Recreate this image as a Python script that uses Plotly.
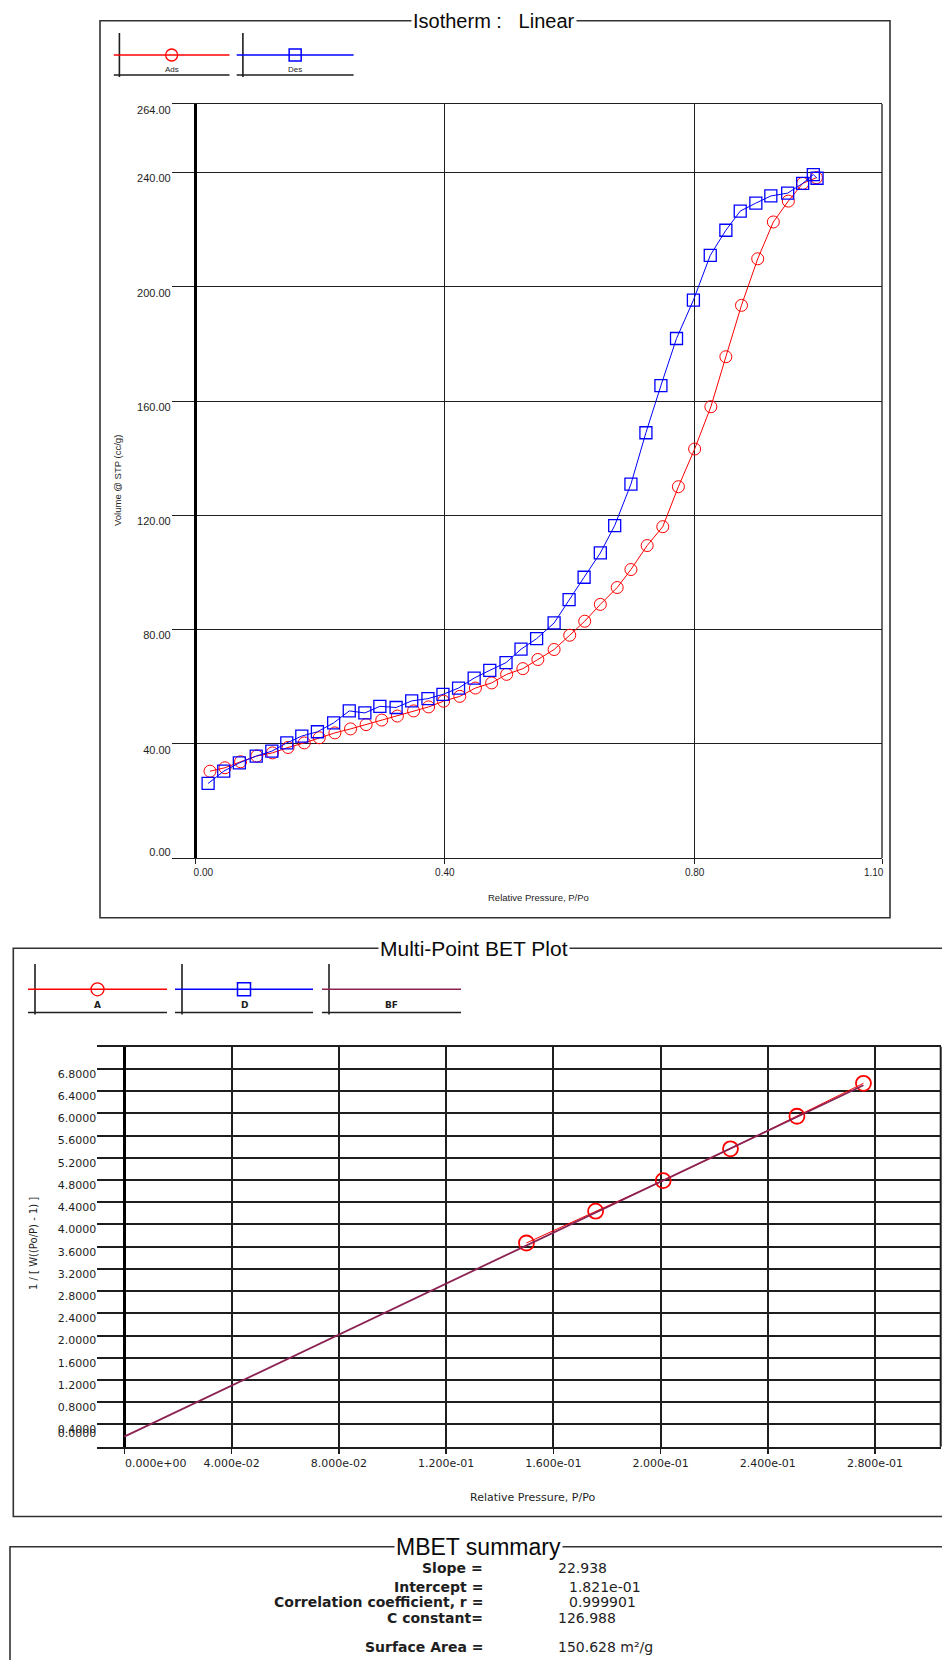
import plotly.graph_objects as go

# ---------------- data ----------------
ads_p = [0.024, 0.048, 0.073, 0.099, 0.124, 0.149, 0.175, 0.199, 0.224, 0.249,
         0.274, 0.299, 0.324, 0.350, 0.374, 0.398, 0.424, 0.449, 0.475, 0.499,
         0.525, 0.549, 0.575, 0.600, 0.624, 0.649, 0.676, 0.698, 0.724, 0.749,
         0.774, 0.800, 0.826, 0.850, 0.875, 0.901, 0.926, 0.950, 0.973, 0.995]
ads_v = [30.4, 31.6, 33.7, 35.7, 36.8, 38.7, 40.3, 42.1, 43.8, 45.2,
         46.7, 48.3, 49.7, 51.5, 52.9, 54.9, 56.6, 59.5, 61.3, 64.3,
         66.3, 69.5, 73.0, 78.0, 82.9, 88.8, 94.7, 101.0, 109.4, 116.0,
         130.0, 143.2, 158.0, 175.5, 193.5, 209.8, 222.7, 230.0, 236.2, 238.2]

des_p = [0.021, 0.046, 0.071, 0.098, 0.123, 0.147, 0.171, 0.196, 0.222, 0.247,
         0.272, 0.296, 0.322, 0.347, 0.373, 0.397, 0.422, 0.447, 0.472, 0.498,
         0.522, 0.547, 0.575, 0.599, 0.623, 0.649, 0.672, 0.698, 0.722, 0.746,
         0.771, 0.798, 0.825, 0.850, 0.873, 0.898, 0.922, 0.949, 0.973, 0.990, 0.996]
des_v = [26.1, 30.4, 33.3, 35.7, 37.4, 40.3, 42.7, 44.2, 47.3, 51.5,
         50.8, 53.1, 52.7, 55.0, 55.8, 57.3, 59.5, 63.0, 65.7, 68.4,
         73.1, 76.8, 82.3, 90.5, 98.3, 106.8, 116.4, 130.9, 148.9, 165.4,
         181.9, 195.3, 211.0, 219.8, 226.5, 229.3, 231.8, 232.8, 236.2, 239.3, 238.0]

iso_xticks = [0.0, 0.4, 0.8, 1.1]
iso_xticktext = ["\u2007\u2007\u20070.00", "0.40", "0.80", "1.10\u2007\u2007\u2007"]
iso_yticks = [40, 80, 120, 160, 200, 240, 264]
iso_yticktext = ["40.00", "80.00", "120.00", "160.00", "200.00", "240.00", "264.00"]
iso_zero_label = ["0.00"]

bet_p = [0.1500, 0.1758, 0.2010, 0.2261, 0.2509, 0.2757]
bet_y = [3.667, 4.239, 4.790, 5.362, 5.948, 6.541]
bet_xticks = [0.0, 0.04, 0.08, 0.12, 0.16, 0.20, 0.24, 0.28]
bet_xticktext = ["\u2007" * 9 + "0.000e+00", "4.000e-02", "8.000e-02", "1.200e-01",
                 "1.600e-01", "2.000e-01", "2.400e-01", "2.800e-01"]
bet_yticks = [0.0, 0.4, 0.8, 1.2, 1.6, 2.0, 2.4, 2.8, 3.2, 3.6, 4.0, 4.4, 4.8,
              5.2, 5.6, 6.0, 6.4, 6.8, 7.2]
bet_yticktext = ["", "0.4000", "0.8000", "1.2000", "1.6000", "2.0000", "2.4000",
                 "2.8000", "3.2000", "3.6000", "4.0000", "4.4000", "4.8000", "5.2000",
                 "5.6000", "6.0000", "6.4000", "6.8000", ""]
bet_zero_label = ["0.0000"]

bet_slope = 22.938
bet_intercept = 0.1821
bf_x = [0.0, bet_p[-1]]
bf_y = [bet_intercept, bet_intercept + bet_slope * bet_p[-1]]

summary_labels = ["Slope =", "Intercept =", "Correlation coefficient, r =", "C constant=", "Surface Area ="]
summary_values = ["22.938", "1.821e-01", "0.999901", "126.988", "150.628 m\u00b2/g"]

# ---------------- helpers ----------------
W, H = 942, 1660
def px(x):
    return x / W
def py(y):
    return 1 - y / H

SANS = "Liberation Sans, Arial, sans-serif"
WIDE = "DejaVu Sans, Verdana, sans-serif"
INK = "#1e1e1e"
RED = "#ff0000"
BLUE = "#0000ff"
BFC = "#8b2252"

fig = go.Figure()

# Isotherm traces
fig.add_trace(go.Scatter(x=ads_p, y=ads_v, mode="lines+markers", name="Ads",
                         line=dict(color=RED, width=1),
                         marker=dict(symbol="circle-open", size=12, color=RED, line=dict(width=1)),
                         xaxis="x", yaxis="y", showlegend=False))
fig.add_trace(go.Scatter(x=des_p, y=des_v, mode="lines+markers", name="Des",
                         line=dict(color=BLUE, width=1),
                         marker=dict(symbol="square-open", size=12, color=BLUE, line=dict(width=1.3)),
                         xaxis="x", yaxis="y", showlegend=False))

# BET traces
fig.add_trace(go.Scatter(x=bet_p, y=bet_y, mode="lines+markers", name="A",
                         line=dict(color=RED, width=1),
                         marker=dict(symbol="circle-open", size=15, color=RED, line=dict(width=1.8)),
                         xaxis="x2", yaxis="y2", showlegend=False))
fig.add_trace(go.Scatter(x=bf_x, y=bf_y, mode="lines", name="BF",
                         line=dict(color=BFC, width=1.8),
                         xaxis="x2", yaxis="y2", showlegend=False))

# empty traces that carry the overlay axes used for the offset "zero" labels
fig.add_trace(go.Scatter(x=[], y=[], xaxis="x", yaxis="y3", showlegend=False, hoverinfo="skip"))
fig.add_trace(go.Scatter(x=[], y=[], xaxis="x2", yaxis="y4", showlegend=False, hoverinfo="skip"))

isofont_y = dict(family=SANS, size=11, color=INK)
isofont_x = dict(family=SANS, size=10, color=INK)
betfont = dict(family=WIDE, size=11, color=INK)

fig.update_layout(
    width=W, height=H, margin=dict(l=0, r=0, t=0, b=0, pad=0), autosize=False,
    paper_bgcolor="white", plot_bgcolor="white", hovermode=False,
    xaxis=dict(domain=[px(171.7), px(882)], range=[-0.0373, 1.1], anchor="y", automargin=False,
               tickvals=iso_xticks, ticktext=iso_xticktext, tickfont=isofont_x,
               showgrid=True, gridcolor=INK, gridwidth=1,
               zeroline=True, zerolinecolor="black", zerolinewidth=3,
               showline=True, linecolor=INK, linewidth=1.2, mirror=True,
               ticks="outside", ticklen=5, tickcolor=INK, tickwidth=1),
    yaxis=dict(domain=[py(858), py(104)], range=[0, 264], anchor="x", automargin=False,
               tickvals=iso_yticks, ticktext=iso_yticktext, tickfont=isofont_y,
               showgrid=True, gridcolor=INK, gridwidth=1,
               zeroline=False, showline=False, ticks="", ticklabelshift=6),
    yaxis3=dict(overlaying="y", anchor="x", range=[0, 264], automargin=False, side="left",
                tickvals=[0], ticktext=iso_zero_label, tickfont=isofont_y,
                showgrid=False, zeroline=False, showline=False, ticks="", ticklabelshift=-6),
    xaxis2=dict(domain=[px(97.3), px(940.7)], range=[-0.01007, 0.30451], anchor="y2", automargin=False,
                tickvals=bet_xticks, ticktext=bet_xticktext, tickfont=betfont,
                showgrid=True, gridcolor=INK, gridwidth=2,
                zeroline=True, zerolinecolor="black", zerolinewidth=3,
                showline=True, linecolor=INK, linewidth=2, mirror=True,
                ticks="outside", ticklen=5, tickcolor=INK, tickwidth=1.5),
    yaxis2=dict(domain=[py(1446.7), py(1046.7)], range=[0, 7.2], anchor="x2", automargin=False,
                tickvals=bet_yticks, ticktext=bet_yticktext, tickfont=betfont,
                showgrid=True, gridcolor=INK, gridwidth=2,
                zeroline=False, showline=False, ticks="", ticklabelshift=5),
    yaxis4=dict(overlaying="y2", anchor="x2", range=[0, 7.2], automargin=False, side="left",
                tickvals=[0], ticktext=bet_zero_label, tickfont=betfont,
                showgrid=False, zeroline=False, showline=False, ticks="", ticklabelshift=-14),
)

shapes = []
def line(x0, y0, x1, y1, color=INK, width=1.5):
    shapes.append(dict(type="line", xref="paper", yref="paper",
                       x0=px(x0), y0=py(y0), x1=px(x1), y1=py(y1),
                       line=dict(color=color, width=width)))

# right borders of the plot areas
shapes.append(dict(type="line", xref="x domain", yref="y domain",
                   x0=1, x1=1, y0=0, y1=1, line=dict(color=INK, width=1.3)))
shapes.append(dict(type="line", xref="x2 domain", yref="y2 domain",
                   x0=1, x1=1, y0=0, y1=1, line=dict(color=INK, width=2)))

# panel frames (the lower two run past the page edge, as in the reference)
shapes.append(dict(type="rect", xref="paper", yref="paper",
                   x0=px(100), x1=px(890), y0=py(917.7), y1=py(20.7),
                   line=dict(color="#333333", width=1.6)))
shapes.append(dict(type="rect", xref="paper", yref="paper",
                   x0=px(13.3), x1=px(960), y0=py(1516.5), y1=py(948.3),
                   line=dict(color="#333333", width=1.6)))
shapes.append(dict(type="rect", xref="paper", yref="paper",
                   x0=px(10), x1=px(960), y0=py(1680), y1=py(1546.7),
                   line=dict(color="#333333", width=1.6)))

annotations = []
def text(x, y, s, size=10, family=SANS, anchor="center", bold=False, bg=None, color=INK, angle=0):
    if bold:
        s = "<b>" + s + "</b>"
    a = dict(xref="paper", yref="paper", x=px(x), y=py(y), text=s, showarrow=False,
             xanchor=anchor, yanchor="middle", textangle=angle,
             font=dict(family=family, size=size, color=color))
    if bg:
        a.update(bgcolor=bg, borderpad=1)
    annotations.append(a)

# hand-drawn style legends
def legend_item(x0, x1, xv, ytop, yline, ybot, ylab, color, marker, msize, label, lsize, bold, fam):
    line(xv, ytop, xv, ybot, color=INK, width=1.6)
    line(x0, ybot - 2, x1, ybot - 2, color=INK, width=1.6)
    line(x0, yline, x1, yline, color=color, width=1.4)
    xm = (x0 + x1) / 2
    if marker == "circle":
        shapes.append(dict(type="circle", xref="paper", yref="paper",
                           x0=px(xm - msize / 2), x1=px(xm + msize / 2),
                           y0=py(yline + msize / 2), y1=py(yline - msize / 2),
                           line=dict(color=color, width=1.3), fillcolor="rgba(0,0,0,0)"))
    elif marker == "square":
        shapes.append(dict(type="rect", xref="paper", yref="paper",
                           x0=px(xm - msize / 2), x1=px(xm + msize / 2),
                           y0=py(yline + msize / 2), y1=py(yline - msize / 2),
                           line=dict(color=color, width=1.5), fillcolor="rgba(0,0,0,0)"))
    text(xm, ylab, label, size=lsize, bold=bold, family=fam)

legend_item(113.8, 229.5, 119.4, 33, 55, 77, 69.5, RED, "circle", 12, "Ads", 8, False, SANS)
legend_item(236.7, 353.6, 242.9, 33, 55, 77, 69.5, BLUE, "square", 12, "Des", 8, False, SANS)

legend_item(28, 167, 35, 964, 989.3, 1014.5, 1005.5, RED, "circle", 13, "A", 9, True, WIDE)
legend_item(175, 313, 182, 964, 989.3, 1014.5, 1005.5, BLUE, "square", 13, "D", 9, True, WIDE)
legend_item(322, 461, 329, 964, 989.3, 1014.5, 1005.5, BFC, None, 0, "BF", 9, True, WIDE)

# panel titles (white background interrupts the frame line)
text(494, 20.7, "Isotherm :\u00a0\u00a0 Linear", size=20, bg="white", color="#0a0a0a")
text(474, 948.3, "Multi-Point BET Plot", size=21, bg="white", color="#0a0a0a")
text(478, 1546.7, "MBET summary", size=23, bg="white", color="#0a0a0a")

# axis titles
text(538, 897.5, "Relative Pressure, P/Po", size=9.5)
text(117, 481, "Volume @ STP (cc/g)", size=9.5, angle=-90)
text(532, 1497, "Relative Pressure, P/Po", size=11, family=WIDE)
text(33, 1244, "1 / [ W((Po/P) - 1) ]", size=10, family=WIDE, angle=-90)

# summary
sum_y = [1568.3, 1587.3, 1601.7, 1618.3, 1646.7]
sum_vx = [555.5, 566.5, 566.5, 555.5, 555.5]
for lab, val, yy, vx in zip(summary_labels, summary_values, sum_y, sum_vx):
    text(484.5, yy, lab, size=14, family=WIDE, anchor="right", bold=True)
    text(vx, yy, val, size=14, family=WIDE, anchor="left")

fig.update_layout(shapes=shapes, annotations=annotations)
fig.write_html("out.html", config={"displayModeBar": False, "staticPlot": True},
               post_script="document.body.style.margin='0px';document.body.style.overflow='hidden';")
